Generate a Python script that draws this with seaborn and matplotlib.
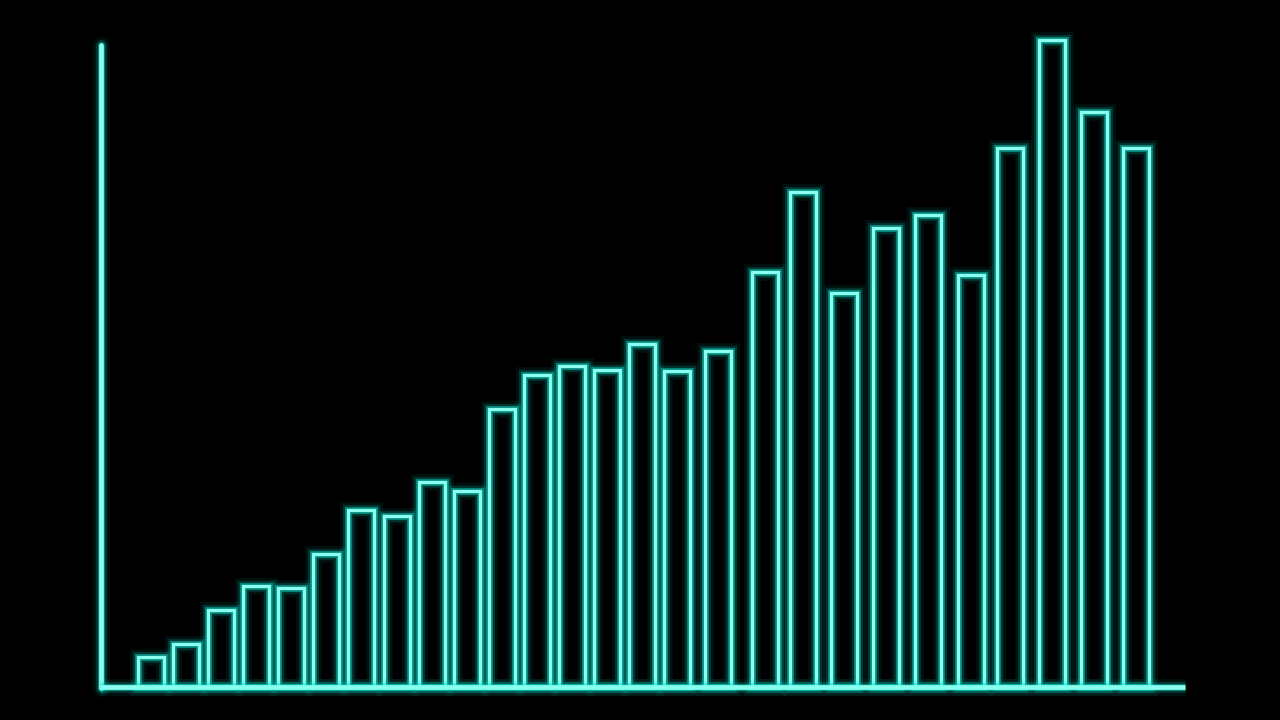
import numpy as np
import pandas as pd
import seaborn as sns
import matplotlib
matplotlib.use("Agg")
import matplotlib.pyplot as plt
import matplotlib.patheffects as pe

# bar positions (irregular spacing) and heights
positions = [1.43, 2.43, 3.43, 4.43, 5.43, 6.43, 7.43, 8.46, 9.46, 10.46,
             11.46, 12.46, 13.47, 14.46, 15.47, 16.46, 17.63, 18.97, 20.06,
             21.23, 22.43, 23.63, 24.86, 25.97, 27.17, 28.37, 29.57]
values = [4.6, 6.6, 11.8, 15.5, 15.2, 20.5, 27.2, 26.3, 31.5, 30.2,
          42.8, 48.0, 49.4, 48.8, 52.8, 48.6, 51.7, 63.8, 76.2, 60.6,
          70.6, 72.6, 63.4, 82.9, 99.5, 88.5, 82.9]

df = pd.DataFrame({"x": positions, "v": values})

core = "#8afff0"
glow = "#00d8c4"

glow_fx = [
    pe.Stroke(linewidth=12, foreground=glow, alpha=0.08),
    pe.Stroke(linewidth=8, foreground=glow, alpha=0.18),
    pe.Stroke(linewidth=5, foreground=glow, alpha=0.5),
    pe.Normal(),
]

sns.set_theme(style="white")
fig = plt.figure(figsize=(12.8, 7.2), dpi=100, facecolor="black")
ax = fig.add_axes([0, 0, 1, 1])
ax.set_facecolor("black")

min_gap = np.min(np.diff(positions))
sns.barplot(data=df, x="x", y="v", native_scale=True, fill=False,
            color=core, linewidth=2.4, width=0.743 / min_gap, ax=ax)
for p in ax.patches:
    p.set_edgecolor(core)
    p.set_path_effects(glow_fx)

# axis lines
ax.plot([0, 0], [-0.15, 98.8], color=core, lw=3.4, solid_capstyle="round",
        path_effects=glow_fx)
ax.plot([-0.03, 30.97], [0, 0], color=core, lw=3.4, solid_capstyle="butt",
        path_effects=glow_fx)

ax.set_xlim(-101 / 35, (1280 - 101) / 35)
ax.set_ylim(-33 / 6.5, 687 / 6.5)
for s in ax.spines.values():
    s.set_visible(False)
ax.set_xticks([])
ax.set_yticks([])
ax.set_xlabel("")
ax.set_ylabel("")

fig.savefig("out.png", dpi=100, facecolor="black")
